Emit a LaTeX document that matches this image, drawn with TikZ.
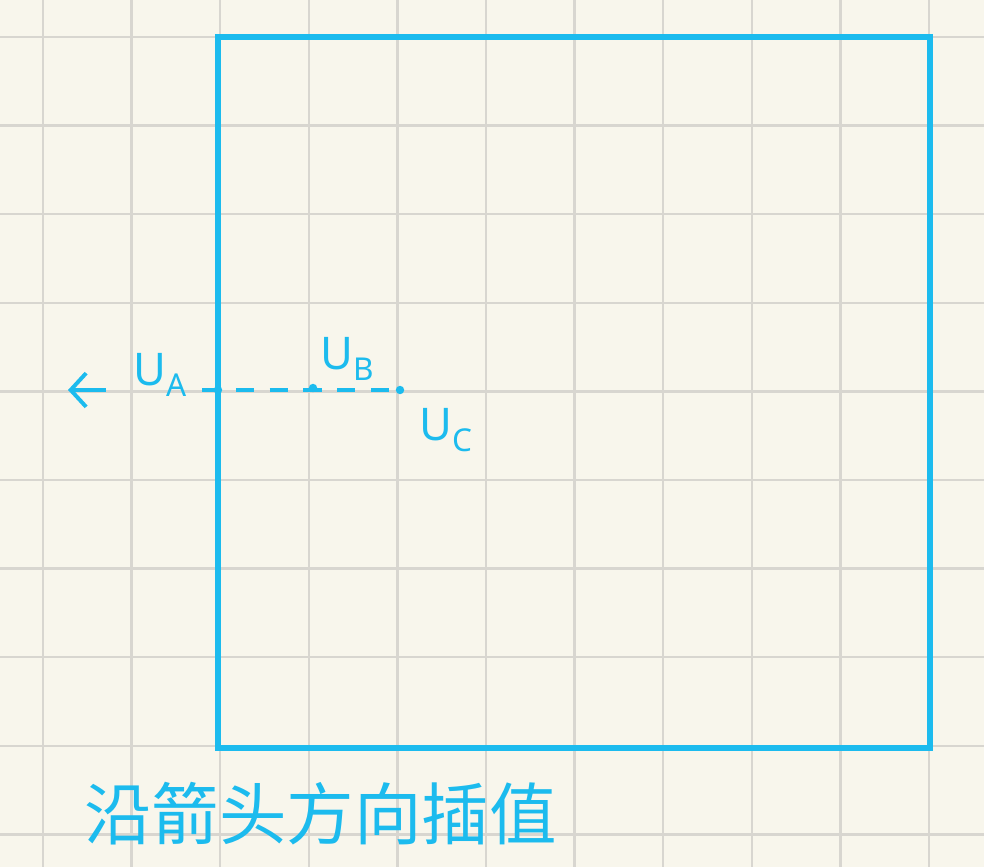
\documentclass[tikz,border=0pt]{standalone}
\usepackage{fontspec}
\usepackage{xcolor}
\usepackage{tikz}
\usetikzlibrary{positioning,arrows.meta}
\newfontfamily\cjk{Noto Sans CJK SC}
\setsansfont{Noto Sans}
\definecolor{cfondo}{HTML}{F8F6EC}
\definecolor{crejilla}{HTML}{D8D6D0}
\definecolor{ccian}{HTML}{1CBBEE}
\tikzset{
  rejilla/.style={draw=crejilla, line width=1.8pt},
  borde/.style={draw=ccian, line width=3.6pt, line cap=round},
  guion/.style={draw=ccian, line width=2.6pt, dash pattern=on 13pt off 11pt},
  punto/.style={circle, fill=ccian, inner sep=0pt, minimum size=6pt},
  etq/.style={text=ccian, font=\sffamily\fontsize{32}{34}\selectfont, inner sep=1pt},
  flecha/.style={-{Straight Barb[length=11pt,width=24pt]}, draw=ccian, line width=2.8pt},
  titulo/.style={text=ccian, font=\cjk\fontsize{48}{52}\selectfont, inner sep=0pt},
}
\begin{document}
\begin{tikzpicture}[x=0.025cm, y=-0.025cm]
  \useasboundingbox (0,0) rectangle (984,867);
  \fill[cfondo] (0,0) rectangle (984,867);
  % rejilla
  \foreach \i in {0,...,10} {
    \draw[rejilla] ({43+88.6*\i},0) -- ({43+88.6*\i},867);
  }
  \foreach \j in {0,...,9} {
    \draw[rejilla] (0,{37+88.6*\j}) -- (984,{37+88.6*\j});
  }
  % caja
  \draw[borde] (218,37) rectangle (930,748);
  % puntos sobre la linea
  \node[punto] (pa) at (218,390) {};
  \node[punto] (pb) at (313,388) {};
  \node[punto] (pc) at (400,390) {};
  \coordinate (ini) at (202,390);
  \draw[guion] (ini) -- (pc);
  \coordinate (fa) at (106,390);
  \coordinate (fb) at (68,390);
  \draw[flecha] (fa) -- (fb);
  \node[etq, anchor=south] (ua) at (160,398) {U\textsubscript{A}};
  \node[etq, anchor=south] (ub) at (348,382) {U\textsubscript{B}};
  \node[etq] (uc) at (446,430) {U\textsubscript{C}};
  \node[titulo, anchor=west] (tit) at (84,814) {沿箭头方向插值};
\end{tikzpicture}
\end{document}
